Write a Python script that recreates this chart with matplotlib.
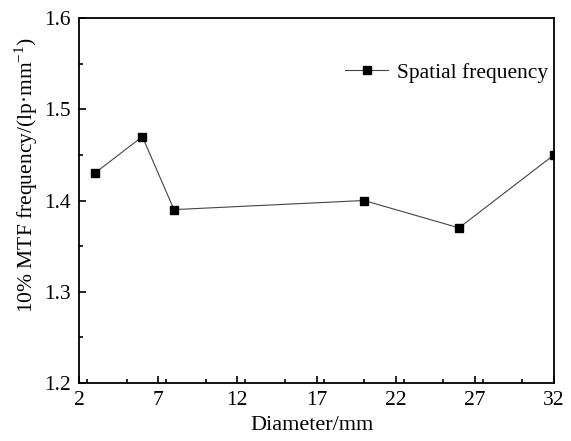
import matplotlib
matplotlib.use("Agg")
import matplotlib.pyplot as plt
from matplotlib.ticker import MultipleLocator

diameter = [3, 6, 8, 20, 26, 32]
mtf_freq = [1.43, 1.47, 1.39, 1.40, 1.37, 1.45]

x_ticks = [2, 7, 12, 17, 22, 27, 32]
y_ticks = [1.2, 1.3, 1.4, 1.5, 1.6]

plt.rcParams["font.family"] = "Liberation Serif"
plt.rcParams["mathtext.fontset"] = "custom"
plt.rcParams["mathtext.rm"] = "Liberation Serif"

fig = plt.figure(figsize=(5.71, 4.41), dpi=100)
ax = fig.add_axes([79 / 571, 1 - 383 / 441, 475 / 571, 365 / 441])

ax.plot(
    diameter,
    mtf_freq,
    color="#444444",
    linewidth=0.8,
    marker="s",
    markersize=5.5,
    markerfacecolor="black",
    markeredgecolor="black",
    label="Spatial frequency"
)

ax.set_xlim(2, 32)
ax.set_ylim(1.2, 1.6)
ax.set_xticks(x_ticks)
ax.set_yticks(y_ticks)
ax.set_yticklabels([f"{v:.1f}" for v in y_ticks])
ax.xaxis.set_minor_locator(MultipleLocator(2.5))
ax.yaxis.set_minor_locator(MultipleLocator(0.05))
ax.tick_params(which="both", direction="in", top=False, right=False,
               labelsize=15.5, width=1.2)
ax.tick_params(axis="x", pad=6)
ax.tick_params(axis="y", pad=6)
ax.tick_params(which="major", length=5)
ax.tick_params(which="minor", length=3)
for s in ax.spines.values():
    s.set_linewidth(1.3)

ax.set_xlabel("Diameter/mm", fontsize=16)
ax.set_ylabel(r"10% MTF frequency/(lp·mm$^{\mathregular{-1}}$)", fontsize=15.5)
ax.xaxis.set_label_coords(0.49, -0.09)
ax.yaxis.set_label_coords(-0.082, 0.57)

ax.legend(loc="center left", bbox_to_anchor=(0.56, 0.85), frameon=False,
          fontsize=15.5, handlelength=2.0, handletextpad=0.4,
          borderpad=0, borderaxespad=0, markerscale=1.0)

fig.savefig("out.png", dpi=100)
